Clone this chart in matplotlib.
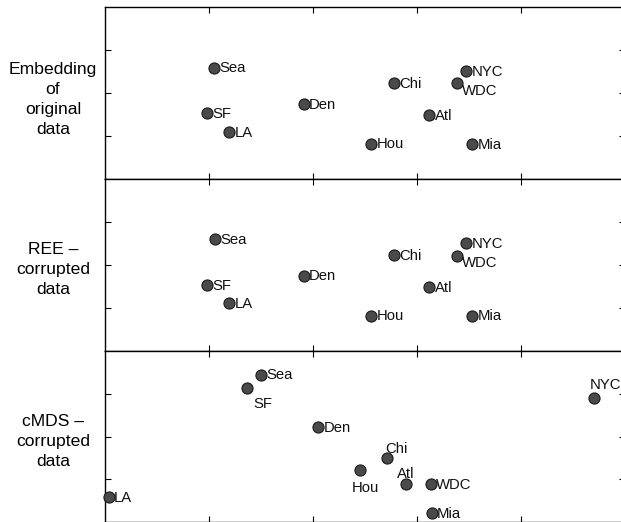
import numpy as np
import matplotlib
matplotlib.use("Agg")
import matplotlib.pyplot as plt

plt.rcParams['font.family'] = ['Liberation Sans', 'DejaVu Sans']

cities = ['Sea', 'SF', 'LA', 'Den', 'Chi', 'NYC', 'WDC', 'Atl', 'Hou', 'Mia']

# embedding of original data
orig_x = [1.05, 0.98, 1.19, 1.91, 2.78, 3.47, 3.38, 3.12, 2.56, 3.53]
orig_y = [2.59, 1.53, 1.09, 1.74, 2.22, 2.50, 2.22, 1.48, 0.82, 0.80]

# REE on corrupted data
ree_x = [1.06, 0.98, 1.19, 1.91, 2.78, 3.47, 3.38, 3.12, 2.56, 3.53]
ree_y = [2.59, 1.52, 1.10, 1.74, 2.22, 2.50, 2.21, 1.47, 0.81, 0.81]

# cMDS on corrupted data
cmds_x = [1.50, 1.37, 0.035, 2.05, 2.71, 4.70, 3.13, 2.89, 2.45, 3.14]
cmds_y = [3.44, 3.12, 0.59, 2.21, 1.51, 2.90, 0.89, 0.89, 1.22, 0.21]

row_labels = ['Embedding\nof\noriginal\ndata', 'REE \u2013\ncorrupted\ndata',
              'cMDS \u2013\ncorrupted\ndata']

# label placement (offset in points, horizontal alignment)
right = ((4.0, -0.5), 'left')
place_top = {c: right for c in cities}
place_top['WDC'] = ((4.0, -5.5), 'left')
place_bot = {c: right for c in cities}
place_bot.update({
    'SF': ((4, -11), 'left'),
    'NYC': ((-3, 9), 'left'),
    'Chi': ((-1, 6), 'left'),
    'Hou': ((-6, -13), 'left'),
    'Atl': ((-6.5, 7), 'left'),
})

panels = [(orig_x, orig_y, place_top), (ree_x, ree_y, place_top),
          (cmds_x, cmds_y, place_bot)]
label_y = [0.462, 0.47, 0.472]

fig = plt.figure(figsize=(6.21, 5.22), dpi=100)
W, H = 621.0, 522.0
left, width = 105 / W, 520 / W
ph = 171.8 / H
tops = [7.0, 178.7, 350.6]

for i, (xs, ys, place) in enumerate(panels):
    ax = fig.add_axes([left, 1 - (tops[i] + 171.8) / H, width, ph])
    ax.set_xlim(0, 5)
    ax.set_ylim(0, 4)
    ax.set_xticks([1, 2, 3, 4])
    ax.set_yticks([1, 2, 3])
    ax.tick_params(direction='in', length=4, width=0.8, top=True, right=True,
                   labelbottom=False, labelleft=False)
    for s in ax.spines.values():
        s.set_linewidth(1.0)
    ax.plot(xs, ys, 'o', ms=8, mfc='#4a4a4a', mec='#1a1a1a', mew=0.8,
            clip_on=False, zorder=3)
    for c, x, y in zip(cities, xs, ys):
        off, ha = place[c]
        ax.annotate(c, (x, y), xytext=off, textcoords='offset points',
                    ha=ha, va='center', fontsize=10.7, color='#111111',
                    annotation_clip=False)
    ax.text(-0.1, label_y[i], row_labels[i], transform=ax.transAxes,
            ha='center', va='center', fontsize=12.6, linespacing=1.4)

fig.savefig('out.png', dpi=100)
